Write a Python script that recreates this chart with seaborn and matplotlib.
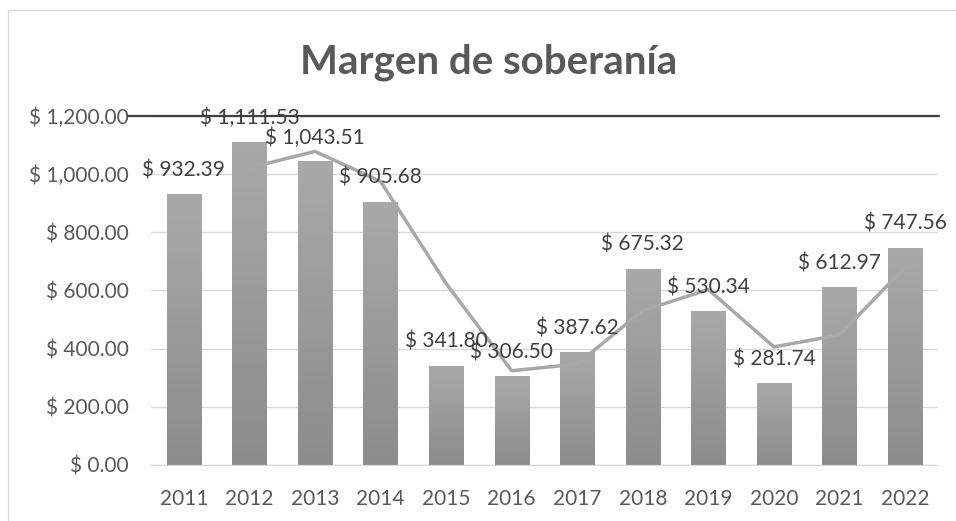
import numpy as np
import pandas as pd
import seaborn as sns
import matplotlib.pyplot as plt
from matplotlib.colors import LinearSegmentedColormap
from matplotlib.patches import Rectangle

# Datos del gráfico
anios = [str(a) for a in range(2011, 2023)]
margen = [932.39, 1111.53, 1043.51, 905.68, 341.80, 306.50,
          387.62, 675.32, 530.34, 281.74, 612.97, 747.56]
# línea de tendencia (2012-2022)
tendencia = [1022, 1078, 975, 624, 324, 347, 531, 603, 406, 447, 680]
yticks = [0, 200, 400, 600, 800, 1000, 1200]

sns.set_style("white")
plt.rcParams['font.family'] = ['Lato', 'DejaVu Sans']
gris_txt = "#595959"

fig = plt.figure(figsize=(9.56, 5.21), dpi=100)
ax = fig.add_axes([0.158, 0.1075, 0.823, 0.67])

df = pd.DataFrame({"anio": anios, "margen": margen})
sns.barplot(data=df, x="anio", y="margen", width=0.52, color="#9b9b9b",
            ax=ax, zorder=2, saturation=1)

# degradado vertical en cada barra
cmap = LinearSegmentedColormap.from_list("g", ["#8c8c8c", "#a9a9a9"])
grad = np.linspace(0, 1, 256).reshape(-1, 1)
for p in list(ax.patches):
    x0, y0 = p.get_x(), p.get_y()
    w, h = p.get_width(), p.get_height()
    im = ax.imshow(grad, extent=[x0, x0 + w, y0, y0 + h], origin="lower",
                   aspect="auto", cmap=cmap, zorder=2)
    im.set_clip_path(p)
    p.set_facecolor("none")
    p.set_edgecolor("none")

# línea de tendencia
sns.lineplot(x=np.arange(1, len(anios)), y=tendencia, ax=ax, color="#a8a8a8",
             lw=2.5, zorder=3)

# etiquetas de datos
for i, v in enumerate(margen):
    ax.annotate(f"$ {v:,.2f}", (i, v), xytext=(0, 17), textcoords="offset points",
                ha="center", va="center", fontsize=15, color="#404040", zorder=4)

ax.set_xlim(-0.5, len(anios) - 0.5)
ax.set_ylim(0, 1200)
ax.set_yticks(yticks)
ax.set_yticklabels([f"$ {t:,.2f}" for t in yticks])
ax.set_xlabel("")
ax.set_ylabel("")
ax.tick_params(axis="both", length=0, labelsize=15, labelcolor=gris_txt)
ax.tick_params(axis="y", pad=16)
ax.tick_params(axis="x", pad=17)
ax.yaxis.grid(True, color="#d9d9d9", lw=1)
ax.set_axisbelow(True)
for s in ["top", "left", "right"]:
    ax.spines[s].set_visible(False)
ax.spines["bottom"].set_color("#d9d9d9")

# línea oscura en 1,200
ax.plot([-0.029, 1.001], [1200, 1200], transform=ax.get_yaxis_transform(),
        color="#404040", lw=1.6, clip_on=False, zorder=5)

# borde exterior
fig.add_artist(Rectangle((8 / 956, -0.05), 1.2, 1 - 10 / 521 + 0.05,
                         transform=fig.transFigure, fill=False,
                         edgecolor="#d9d9d9", lw=1))

fig.text(489 / 956, 1 - 62 / 521, "Margen de soberanía", ha="center", va="center",
         fontsize=29, fontweight="bold", color=gris_txt)

fig.savefig("out.png", dpi=100)
